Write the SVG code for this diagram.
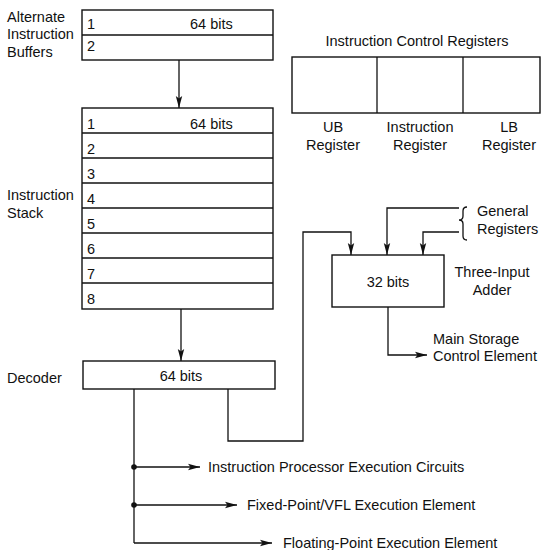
<svg xmlns="http://www.w3.org/2000/svg" width="542" height="550" viewBox="0 0 542 550">
<style>
text{font-family:"Liberation Sans",Arial,sans-serif;font-size:14.5px;fill:#111}
.b{fill:#fff;stroke:#111;stroke-width:1.4}
.l{fill:none;stroke:#111;stroke-width:1.3}
.c{text-anchor:middle}
</style>
<defs>
<marker id="ah" viewBox="0 0 12 8" refX="12" refY="4" markerWidth="12" markerHeight="8" markerUnits="userSpaceOnUse" orient="auto">
<path d="M0,0.8 L12,4 L0,7.2 L2.5,4 Z" fill="#111"/>
</marker>
</defs>
<rect width="542" height="550" fill="#fff"/>

<g id="alt-buffers">
<rect class="b" x="82" y="10" width="191" height="50"/>
<line class="l" x1="82" y1="35" x2="273" y2="35"/>
<text x="87" y="29">1</text>
<text x="190" y="29">64 bits</text>
<text x="87" y="51">2</text>
<text x="7" y="22">Alternate</text>
<text x="7" y="39">Instruction</text>
<text x="7" y="57">Buffers</text>
</g>

<g id="instruction-stack">
<rect class="b" x="82" y="108" width="191" height="201"/>
<line class="l" x1="82" y1="133" x2="273" y2="133"/>
<line class="l" x1="82" y1="158" x2="273" y2="158"/>
<line class="l" x1="82" y1="183" x2="273" y2="183"/>
<line class="l" x1="82" y1="208" x2="273" y2="208"/>
<line class="l" x1="82" y1="233" x2="273" y2="233"/>
<line class="l" x1="82" y1="258" x2="273" y2="258"/>
<line class="l" x1="82" y1="283" x2="273" y2="283"/>
<text x="87" y="129">1</text>
<text x="190" y="129">64 bits</text>
<text x="87" y="154">2</text>
<text x="87" y="179">3</text>
<text x="87" y="204">4</text>
<text x="87" y="229">5</text>
<text x="87" y="254">6</text>
<text x="87" y="279">7</text>
<text x="87" y="304">8</text>
<text x="7" y="200">Instruction</text>
<text x="7" y="218">Stack</text>
</g>

<g id="decoder">
<rect class="b" x="83" y="361" width="192" height="28"/>
<text class="c" x="181" y="381">64 bits</text>
<text x="7" y="383">Decoder</text>
</g>

<g id="control-registers">
<text class="c" x="417" y="46">Instruction Control Registers</text>
<rect class="b" x="292" y="57" width="248" height="56"/>
<line class="l" x1="377" y1="57" x2="377" y2="113"/>
<line class="l" x1="463" y1="57" x2="463" y2="113"/>
<text class="c" x="333" y="132">UB</text>
<text class="c" x="333" y="150">Register</text>
<text class="c" x="420" y="132">Instruction</text>
<text class="c" x="420" y="150">Register</text>
<text class="c" x="509" y="132">LB</text>
<text class="c" x="509" y="150">Register</text>
</g>

<g id="adder">
<rect class="b" x="332" y="255" width="112" height="52"/>
<text class="c" x="388" y="287">32 bits</text>
<text class="c" x="492" y="277">Three-Input</text>
<text class="c" x="492" y="295">Adder</text>
</g>

<g id="general-registers">
<path class="l" d="M467,207 Q463,207 463,211 L463,216 Q463,220 459,220 Q463,220 463,224 L463,236 Q463,240 467,240"/>
<text x="477" y="216">General</text>
<text x="477" y="234">Registers</text>
</g>

<g id="main-storage">
<text x="433" y="344">Main Storage</text>
<text x="433" y="361">Control Element</text>
</g>

<g id="outputs">
<circle cx="134" cy="467" r="2.8" fill="#111"/>
<circle cx="134" cy="505" r="2.8" fill="#111"/>
<text x="208" y="472">Instruction Processor Execution Circuits</text>
<text x="247" y="510">Fixed-Point/VFL Execution Element</text>
<text x="283" y="548">Floating-Point Execution Element</text>
</g>

<g id="connectors">
<line class="l" x1="179" y1="60" x2="179" y2="108" marker-end="url(#ah)"/>
<line class="l" x1="181" y1="309" x2="181" y2="361" marker-end="url(#ah)"/>
<polyline class="l" points="228,389 228,441 303,441 303,232 351,232 351,255" marker-end="url(#ah)"/>
<polyline class="l" points="459,208 387,208 387,255" marker-end="url(#ah)"/>
<polyline class="l" points="459,232 423,232 423,255" marker-end="url(#ah)"/>
<polyline class="l" points="388,307 388,355 427,355" marker-end="url(#ah)"/>
<line class="l" x1="134" y1="389" x2="134" y2="543"/>
<line class="l" x1="134" y1="467" x2="200" y2="467" marker-end="url(#ah)"/>
<line class="l" x1="134" y1="505" x2="237" y2="505" marker-end="url(#ah)"/>
<polyline class="l" points="134,543 272,543" marker-end="url(#ah)"/>
</g>
</svg>
